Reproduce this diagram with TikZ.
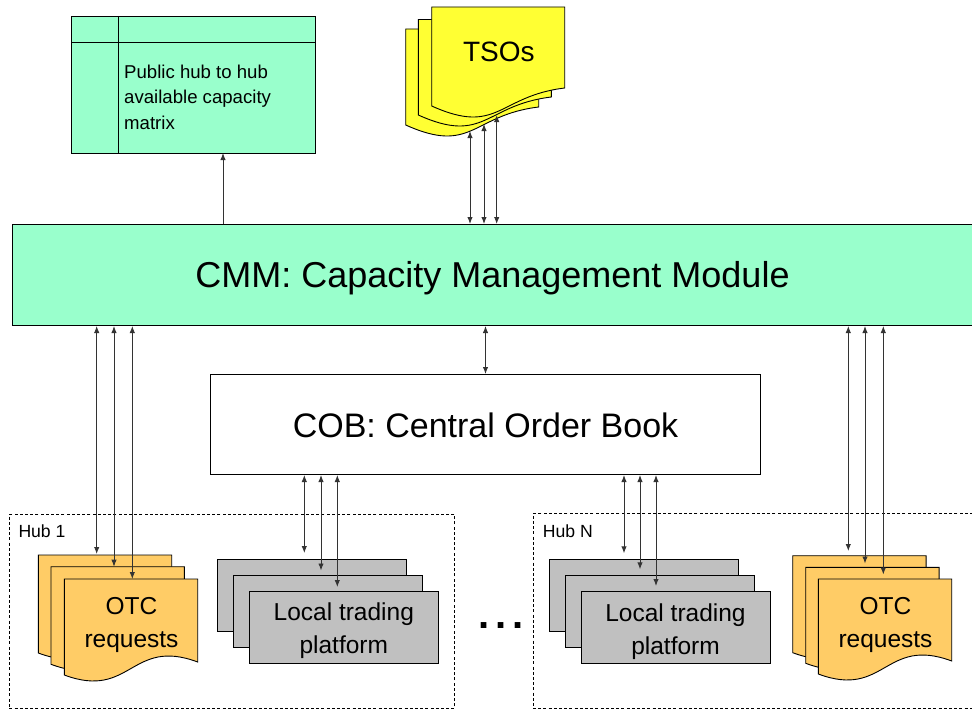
\documentclass[tikz,border=0pt]{standalone}
\usepackage{fontspec}
\setmainfont{Liberation Sans}
\usetikzlibrary{arrows.meta,calc}

\definecolor{mint}{HTML}{99FFCC}
\definecolor{tsoyellow}{HTML}{FFFF33}
\definecolor{otcorange}{HTML}{FFCC66}
\definecolor{sheetgray}{HTML}{C0C0C0}

% Stacked "document" sheet with a wavy lower edge.
% #1,#2 top-left corner, #3 width, #4 height at the left side, #5 fill,
% #6 drop of the right end, #7 rise of the crest control, #8 sink of the trough control
\newcommand\docsheet[8]{%
  \filldraw[fill=#5,sheetline]
    (#1,#2) -- ({#1+#3},#2) -- ({#1+#3},{#2+#4-#6})
    .. controls ({#1+0.5*#3},{#2+#4-#7}) and ({#1+0.5*#3},{#2+#4+#8}) .. (#1,{#2+#4}) -- cycle;}

\tikzset{
  sheetline/.style={draw=black, line width=0.9pt},
  boxline/.style={draw=black, line width=1pt},
  link/.style={draw=black!80, line width=0.9pt},
  biarrow/.style={link, {Latex[length=7pt,width=5.4pt]}-{Latex[length=7pt,width=5.4pt]}},
  onearrow/.style={link, -{Latex[length=7pt,width=5.4pt]}},
  hubframe/.style={draw=black, dashed, dash pattern=on 3pt off 2.2pt, line width=0.7pt,
    anchor=north west, inner sep=0pt},
  graysheet/.style={sheetline, fill=sheetgray, anchor=north west, inner sep=0pt,
    minimum width=189pt, minimum height=71.5pt},
  bigtitle/.style={font=\fontsize{36}{40}\selectfont},
  midtitle/.style={font=\fontsize{34}{40}\selectfont},
  % multi-line labels are anchored at the baseline of their last line
  sheettext/.style={font=\fontsize{24.5}{33}\selectfont, align=center, anchor=base},
  smalltext/.style={font=\fontsize{17.6}{20}\selectfont, anchor=base west, inner sep=0pt},
}

\begin{document}
\begin{tikzpicture}[x=1pt,y=-1pt]
\path[use as bounding box] (0,0) rectangle (972,709);

% hub frames
\node[hubframe, minimum width=445.3pt, minimum height=194pt] (hub1) at (9,514) {};
\node[hubframe, minimum width=445pt, minimum height=194.7pt] (hubN) at (532.7,513.3) {};
\node[smalltext] (hub1label) at (18.3,537.7) {Hub 1};
\node[smalltext] (hubNlabel) at (542.7,537.7) {Hub N};

% public capacity matrix
\node[boxline, fill=mint, anchor=north west, inner sep=0pt,
      minimum width=244pt, minimum height=137pt] (matrix) at (71,16) {};
\draw[boxline] (matrix.north west |- 0,43) -- (matrix.north east |- 0,43);
\draw[boxline] (118.7,16) -- (118.7,153);
\node[font=\fontsize{18.6}{25.5}\selectfont, align=left, anchor=base west, inner sep=0pt]
  (matrixtext) at (124,129.3) {Public hub to hub\\available capacity\\matrix};

% TSO stack
\docsheet{405.7}{29}{133}{96}{tsoyellow}{18}{10}{30}
\docsheet{418.3}{19.5}{133}{95.5}{tsoyellow}{18}{10}{30}
\docsheet{431.7}{7}{133}{99}{tsoyellow}{18}{10}{30}
\node[font=\fontsize{28}{32}\selectfont, anchor=base] (tsos) at (498.8,61.7) {TSOs};

% central modules
\node[boxline, fill=mint, anchor=north west, inner sep=0pt,
      minimum width=959.4pt, minimum height=101pt, text height=25.8pt, text depth=0pt,
      bigtitle] (cmm) at (12.3,224) {CMM: Capacity Management Module};
\node[boxline, fill=white, anchor=north west, inner sep=0pt,
      minimum width=550pt, minimum height=100pt, text height=25pt, text depth=0pt,
      midtitle] (cob) at (210,374) {COB: Central Order Book};

% OTC requests, hub 1
\docsheet{38.3}{555}{133.4}{98}{otcorange}{13}{38}{25}
\docsheet{51}{566.7}{133.4}{97.6}{otcorange}{13}{38}{25}
\docsheet{64.3}{579}{133.4}{96}{otcorange}{13}{38}{25}
\node[sheettext] (otc1) at (131.5,647) {OTC\\requests};

% local trading platform, hub 1
\node[graysheet] (ltp1a) at (217.3,559.3) {};
\node[graysheet] (ltp1b) at (233.3,575.3) {};
\node[graysheet] (ltp1c) at (249.3,591) {};
\node[sheettext] (ltp1) at (343.8,653.3) {Local trading\\platform};

% local trading platform, hub N
\node[graysheet] (ltpNa) at (549,559) {};
\node[graysheet] (ltpNb) at (565,575) {};
\node[graysheet] (ltpNc) at (581,591) {};
\node[sheettext] (ltpN) at (675.5,654) {Local trading\\platform};

% OTC requests, hub N
\docsheet{792.7}{555.7}{133.4}{97}{otcorange}{13}{38}{25}
\docsheet{805.7}{567.3}{133.4}{96}{otcorange}{13}{38}{25}
\docsheet{818.3}{579}{133.4}{95}{otcorange}{13}{38}{25}
\node[sheettext] (otcN) at (885.5,647) {OTC\\requests};

% ellipsis between the hubs
\node[font=\fontsize{40}{40}\selectfont\bfseries, anchor=base, inner sep=0pt]
  (dots) at (501,628.3) {.\hspace{6pt}.\hspace{6pt}.};

% connector end points
\coordinate (mtxfoot) at (223,153);
\coordinate (tsoA) at (470,131);
\coordinate (tsoB) at (484,124);
\coordinate (tsoC) at (496.7,115);
\coordinate (otc1A) at (96.7,554);
\coordinate (otc1B) at (114,566.7);
\coordinate (otc1C) at (132.3,579);
\coordinate (ltp1A) at (304.3,553);
\coordinate (ltp1B) at (321,570.5);
\coordinate (ltp1C) at (337.3,587);
\coordinate (ltpNA) at (624,553.3);
\coordinate (ltpNB) at (640,569.3);
\coordinate (ltpNC) at (656,586);
\coordinate (otcNA) at (848.3,551);
\coordinate (otcNB) at (865,563.5);
\coordinate (otcNC) at (883.3,574.5);

% connectors
\draw[onearrow] (cmm.north -| mtxfoot) -- (mtxfoot);
\foreach \p in {tsoA,tsoB,tsoC}
  \draw[biarrow] (cmm.north -| \p) -- (\p);
\foreach \p in {otc1A,otc1B,otc1C,otcNA,otcNB,otcNC}
  \draw[biarrow] (cmm.south -| \p) -- (\p);
\draw[biarrow] (cmm.south -| cob.north) -- (cob.north);
\foreach \p in {ltp1A,ltp1B,ltp1C,ltpNA,ltpNB,ltpNC}
  \draw[biarrow] (cob.south -| \p) -- (\p);
\end{tikzpicture}
\end{document}
